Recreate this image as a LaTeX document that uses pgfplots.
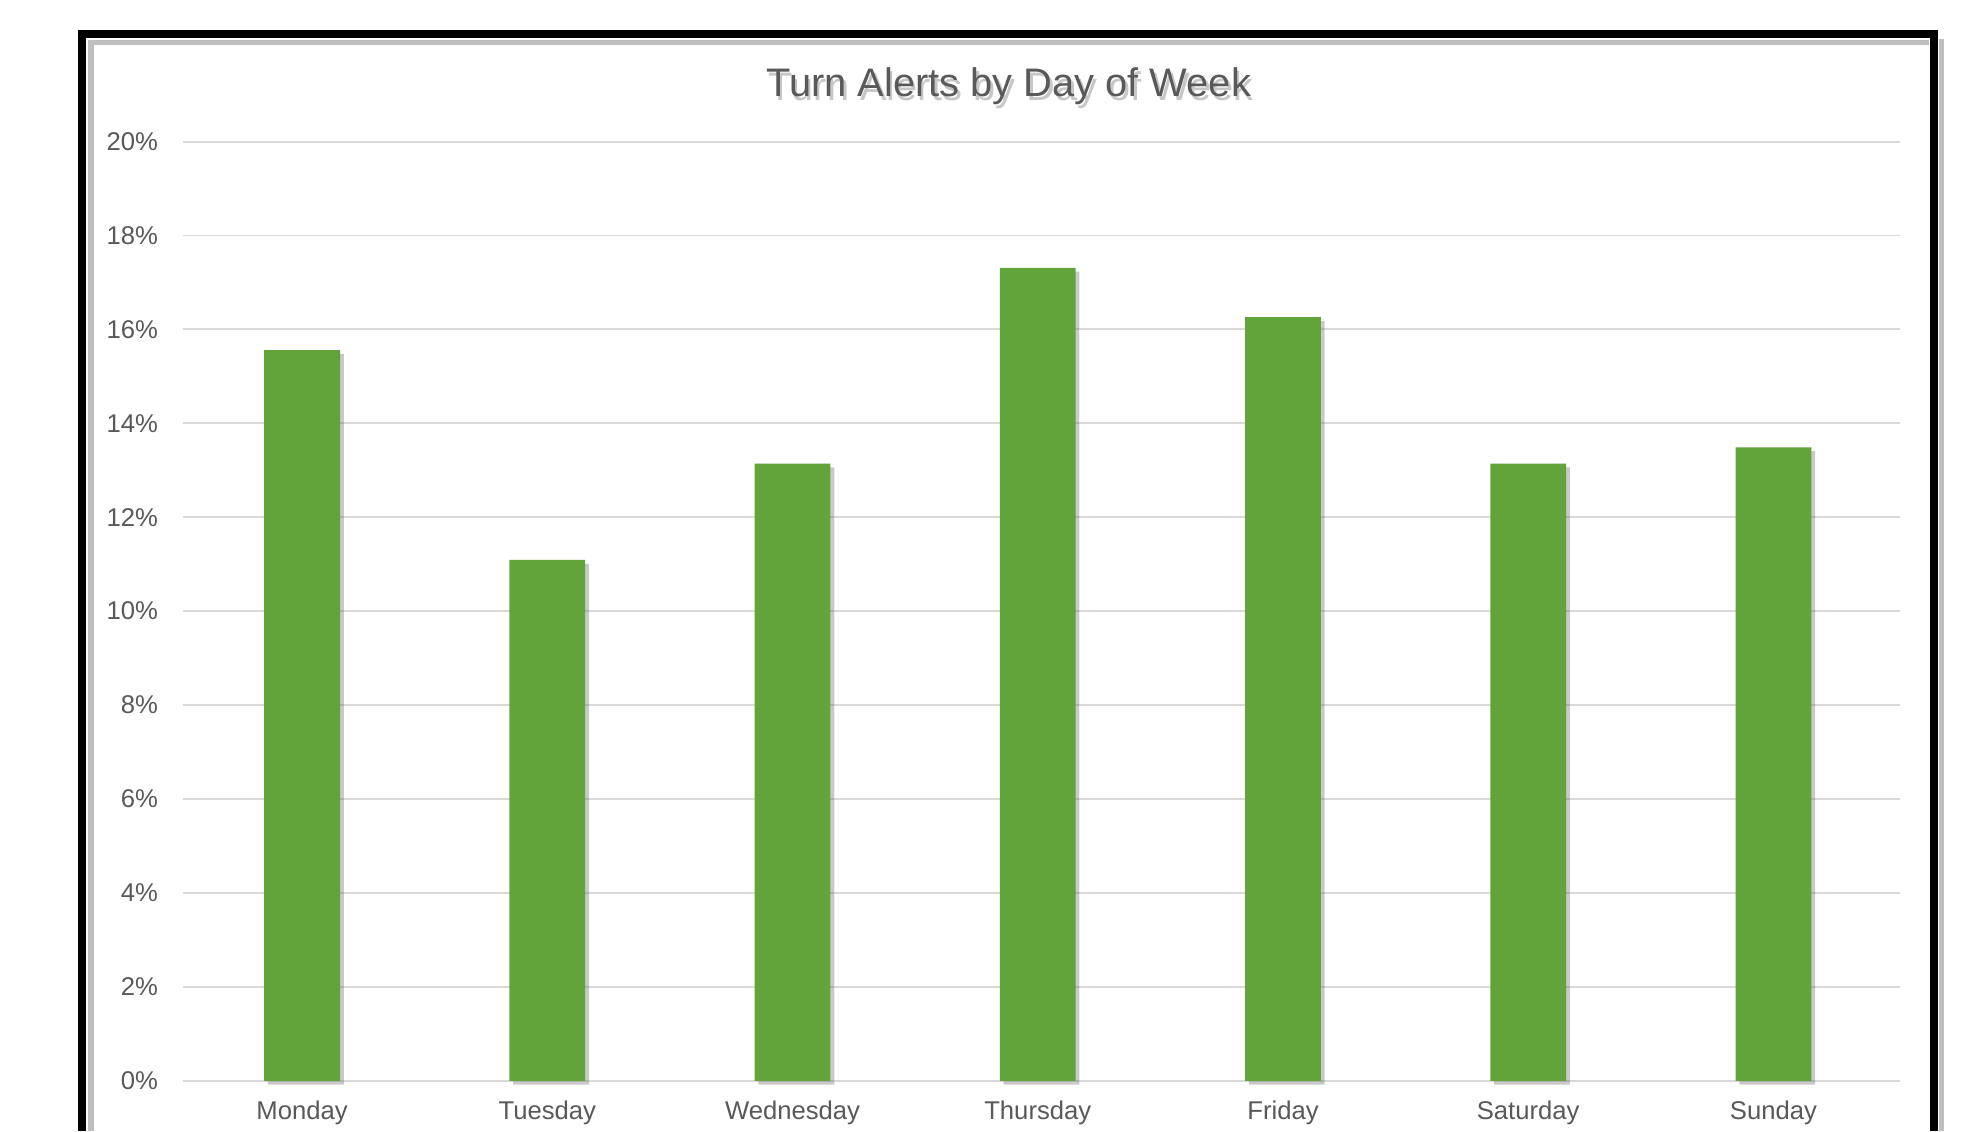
\documentclass[border=0pt]{standalone}
\usepackage{pgfplots}
\pgfplotsset{compat=1.18}
\usepackage{fontspec}
\setmainfont{Liberation Sans}
\usetikzlibrary{shadows}
\definecolor{bargreen}{HTML}{62A43A}
\definecolor{txtgray}{HTML}{595959}
\definecolor{gridgray}{HTML}{D9D9D9}
\begin{document}
\begin{tikzpicture}
\useasboundingbox (0,0) rectangle (784pt,447.5pt);
\fill[white] (0,0) rectangle (784pt,447.5pt);
% frame shadow
\draw[line width=2pt, black!25] (36pt,0) -- (36pt,430.5pt) -- (763pt,430.5pt);
\draw[line width=2pt, black!25] (768pt,0) -- (768pt,432pt);
% frame
\draw[line width=3pt, black] (32.5pt,0) -- (32.5pt,434pt) -- (765pt,434pt) -- (765pt,0);
% title
\node[text=black!22, font=\fontsize{15.75}{18}\selectfont] at (400pt,412pt) {Turn Alerts by Day of Week};
\node[text=txtgray, font=\fontsize{15.75}{18}\selectfont] at (399pt,413.5pt) {Turn Alerts by Day of Week};
\begin{axis}[
  at={(72.5pt,20pt)}, anchor=south west,
  scale only axis, width=679pt, height=371.5pt,
  xmin=-0.5, xmax=6.5, ymin=0, ymax=20,
  ybar, bar width=30pt, bar shift=-1.5pt,
  xtick={0,1,2,3,4,5,6},
  xticklabels={Monday,Tuesday,Wednesday,Thursday,Friday,Saturday,Sunday},
  ytick={0,2,4,6,8,10,12,14,16,18,20},
  yticklabels={0\%,2\%,4\%,6\%,8\%,10\%,12\%,14\%,16\%,18\%,20\%},
  ymajorgrids, grid style={gridgray, line width=0.75pt},
  axis line style={draw=none},
  tick style={draw=none},
  ticklabel style={text=txtgray, font=\fontsize{10.15}{12}\selectfont},
  xticklabel style={xshift=-1.5pt},
  yticklabel style={xshift=-6.5pt},
  clip=false,
]
\addplot[fill=bargreen, draw=none, drop shadow={shadow xshift=1.5pt, shadow yshift=-1.5pt, opacity=0.35, fill=black!60}] coordinates {
(0,15.56) (1,11.09) (2,13.14) (3,17.31) (4,16.26) (5,13.14) (6,13.49)
};
\end{axis}
\end{tikzpicture}
\end{document}
